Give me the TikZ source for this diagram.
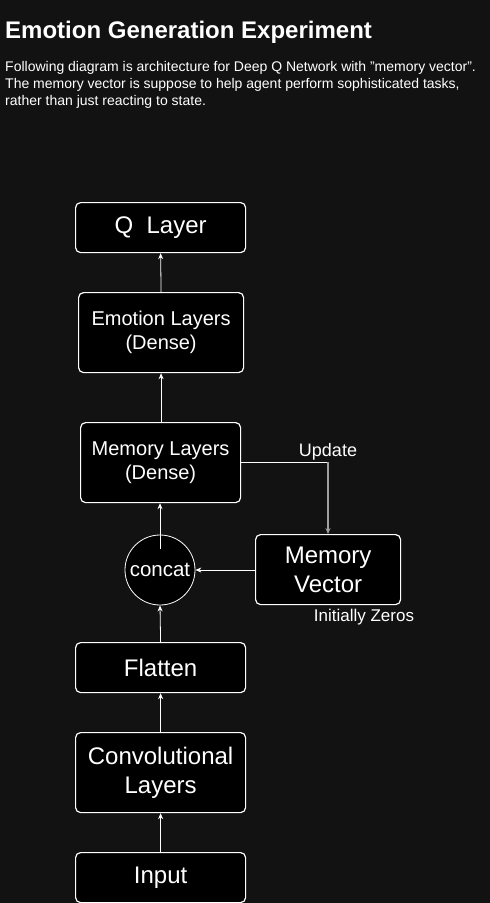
\documentclass[tikz,border=0pt]{standalone}
\usepackage{fontspec}
\setmainfont{Liberation Sans}
\usetikzlibrary{arrows.meta}
\definecolor{bg}{HTML}{121212}
\definecolor{upd}{HTML}{A0A0A0}
\begin{document}
\begin{tikzpicture}[x=1pt,y=-1pt,
  box/.style={draw=white,fill=black,rounded corners=5pt,line width=1.2pt,text=white,align=center,inner sep=0pt,anchor=north west,execute at begin node={\vspace*{3pt}}},
  arr/.style={draw=white,line width=0.8pt,-{Stealth[length=6pt,width=5pt]}},
  lbl/.style={text=white,inner sep=0pt}]
\fill[bg] (0,0) rectangle (490,903);
\useasboundingbox (0,0) rectangle (490,903);
\node[lbl,anchor=base west,font=\fontsize{24}{28}\selectfont\bfseries] (title) at (5,38) {Emotion Generation Experiment};
\node[lbl,anchor=north west,align=left,font=\fontsize{14}{17}\selectfont] (desc) at (5,61) {Following diagram is architecture for Deep Q Network with "memory vector".\\The memory vector is suppose to help agent perform sophisticated tasks,\\rather than just reacting to state.};
\node[box,minimum width=170pt,minimum height=50pt,font=\fontsize{24}{28}\selectfont] (q) at (75,202) {Q\ \ Layer};
\node[box,minimum width=165pt,minimum height=80pt,font=\fontsize{20}{24}\selectfont] (emo) at (78,292) {Emotion Layers\\(Dense)};
\node[box,minimum width=160pt,minimum height=80pt,font=\fontsize{20}{24}\selectfont] (mem) at (80,422) {Memory Layers\\(Dense)};
\node[draw=white,fill=black,circle,minimum size=70pt,inner sep=0pt,line width=0.8pt,text=white,font=\fontsize{20.5}{24}\selectfont] (cc) at (160,570) {concat};
\node[box,minimum width=145pt,minimum height=70pt,font=\fontsize{24}{29}\selectfont] (mv) at (255,534) {Memory\\Vector};
\node[lbl,font=\fontsize{17}{20}\selectfont] (iz) at (364,617) {Initially Zeros};
\node[box,minimum width=170pt,minimum height=50pt,font=\fontsize{24}{28}\selectfont] (fl) at (75,642) {Flatten};
\node[box,minimum width=170pt,minimum height=80pt,font=\fontsize{24}{29}\selectfont] (conv) at (75,732) {Convolutional\\Layers};
\node[box,minimum width=170pt,minimum height=50pt,font=\fontsize{24}{28}\selectfont] (inp) at (75,852) {Input};
\coordinate (ccin) at (160,549);
\coordinate (corner) at (328,462);
\draw[arr] (inp.north) -- (conv.south);
\draw[arr] (conv.north) -- (fl.south);
\draw[arr] (fl.north) -- (cc.south);
\draw[arr] (ccin) -- (ccin |- mem.south);
\draw[arr] (mem.north) -- (emo.north |- mem.north) -- (emo.south);
\draw[arr] (emo.north) -- (q.south);
\draw[arr] (mv.west |- cc.east) -- (cc.east);
\draw[draw=white,line width=0.8pt] (mem.east |- corner) -- (corner);
\draw[draw=upd,line width=1.2pt,-{Stealth[length=6pt,width=5pt]}] (corner) -- (mv.north -| corner);
\node[lbl,font=\fontsize{18}{21}\selectfont] (up) at (328,452) {Update};
\end{tikzpicture}
\end{document}
